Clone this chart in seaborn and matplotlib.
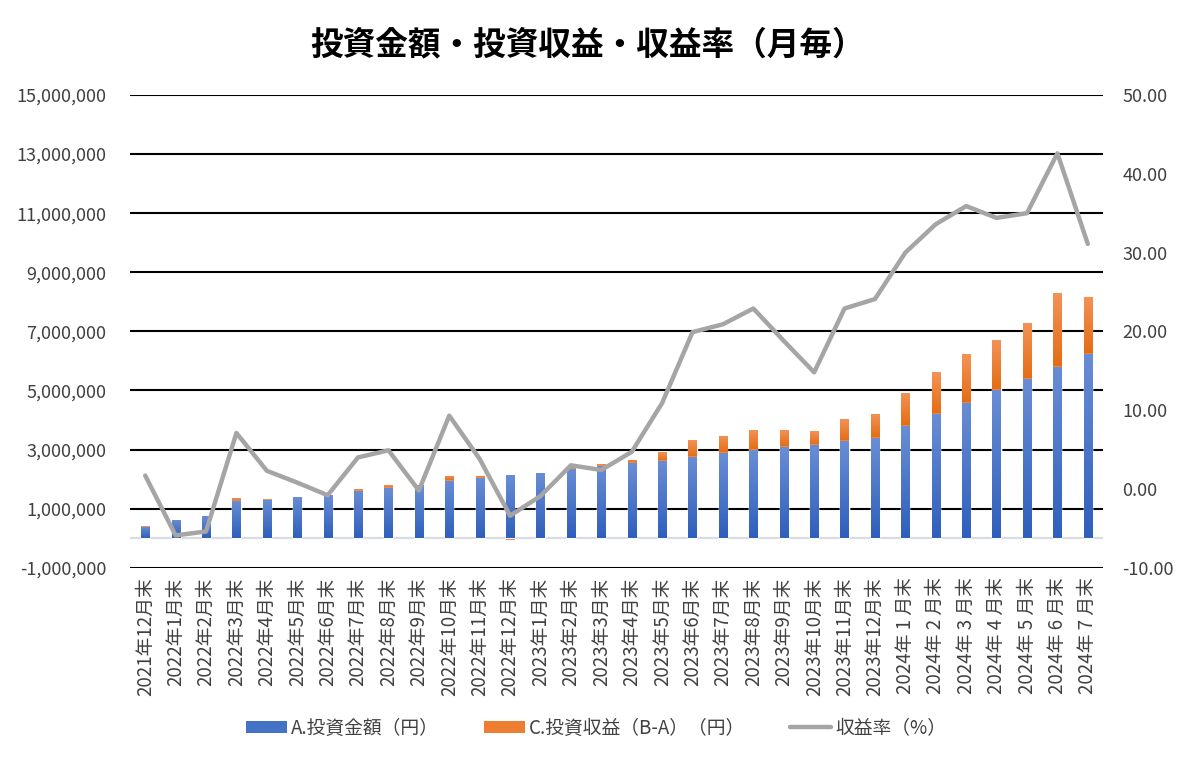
import numpy as np
import pandas as pd
import matplotlib
matplotlib.use("Agg")
import matplotlib.pyplot as plt
import seaborn as sns
from matplotlib.patches import Patch
from matplotlib.lines import Line2D
from matplotlib.colors import LinearSegmentedColormap
from matplotlib.ticker import FuncFormatter, MultipleLocator

# ---------------- data ----------------
months = ['2021年12月末',
          '2022年1月末', '2022年2月末', '2022年3月末', '2022年4月末', '2022年5月末', '2022年6月末',
          '2022年7月末', '2022年8月末', '2022年9月末', '2022年10月末', '2022年11月末', '2022年12月末',
          '2023年1月末', '2023年2月末', '2023年3月末', '2023年4月末', '2023年5月末', '2023年6月末',
          '2023年7月末', '2023年8月末', '2023年9月末', '2023年10月末', '2023年11月末', '2023年12月末',
          '2024年 1 月末', '2024年 2 月末', '2024年 3 月末', '2024年 4 月末', '2024年 5 月末',
          '2024年 6 月末', '2024年 7 月末']

invested = [390000,
            620000, 745000, 1260000, 1300000, 1390000, 1450000,
            1600000, 1710000, 1790000, 1930000, 2020000, 2150000,
            2210000, 2340000, 2450000, 2530000, 2620000, 2760000,
            2870000, 2970000, 3080000, 3170000, 3280000, 3380000,
            3790000, 4200000, 4580000, 5000000, 5400000,
            5810000, 6220000]

profit = [7000,
          -37000, -40000, 90000, 30000, 11000, -12000,
          64000, 84000, -4000, 180000, 77000, -73000,
          -20000, 70000, 59000, 119000, 286000, 549000,
          600000, 680000, 580000, 470000, 750000, 815000,
          1140000, 1410000, 1645000, 1720000, 1890000,
          2475000, 1935000]

rate = [1.7,
        -5.9, -5.4, 7.1, 2.3, 0.8, -0.8,
        4.0, 4.9, -0.2, 9.3, 3.8, -3.4,
        -0.9, 3.0, 2.4, 4.7, 10.9, 19.9,
        20.9, 22.9, 18.8, 14.8, 22.9, 24.1,
        30.0, 33.6, 35.9, 34.4, 35.0,
        42.6, 31.1]

left_ticks = [-1000000, 1000000, 3000000, 5000000, 7000000, 9000000, 11000000, 13000000, 15000000]
right_ticks = [-10, 0, 10, 20, 30, 40, 50]

title = '投資金額・投資収益・収益率（月毎）'
legend_labels = ['A.投資金額（円）', 'C.投資収益（B-A）（円）', '収益率（%）']

# ---------------- style ----------------
sns.set_theme(style="white")
plt.rcParams['font.family'] = ['Noto Sans CJK JP', 'DejaVu Sans']
TXT = '#404040'
BLUE = '#4472C4'
ORANGE = '#ED7D31'
GRAY = '#A5A5A5'

df = pd.DataFrame({'month': months, 'invested': invested, 'profit': profit, 'rate': rate})
df['pos_top'] = df['invested'] + df['profit'].clip(lower=0)
df['neg'] = df['profit'].clip(upper=0)

fig = plt.figure(figsize=(11.96, 7.61), dpi=100)
ax = fig.add_axes([130 / 1196, 1 - 567.7 / 761, (1103 - 130) / 1196, (567.7 - 95) / 761])

W = 0.27
n0 = len(ax.patches)
sns.barplot(data=df, x='month', y='pos_top', color=ORANGE, saturation=1, width=W,
            errorbar=None, ax=ax)
orange_pos = ax.patches[n0:]
n0 = len(ax.patches)
sns.barplot(data=df, x='month', y='invested', color=BLUE, saturation=1, width=W,
            errorbar=None, ax=ax)
blue_p = ax.patches[n0:]
n0 = len(ax.patches)
sns.barplot(data=df, x='month', y='neg', color=ORANGE, saturation=1, width=W,
            errorbar=None, ax=ax)
orange_neg = ax.patches[n0:]

blue_cmap = LinearSegmentedColormap.from_list('b', ['#2E5FBC', '#6A8ED5'])
orange_cmap = LinearSegmentedColormap.from_list('o', ['#E46C14', '#F39358'])
grad = np.linspace(1, 0, 256).reshape(-1, 1)


def add_grad(patch, cmap, z, y0=None, y1=None):
    x = patch.get_x()
    w = patch.get_width()
    y = patch.get_y()
    h = patch.get_height()
    if abs(h) < 1:
        return
    lo, hi = min(y, y + h), max(y, y + h)
    if y0 is not None:
        lo, hi = y0, y1
    patch.set_zorder(z)
    im = ax.imshow(grad, extent=[x, x + w, lo, hi], aspect='auto', cmap=cmap,
                   origin='upper', zorder=z + 0.01, interpolation='bilinear')
    im.set_clip_path(patch)


for po, pb in zip(orange_pos, blue_p):
    top = po.get_y() + po.get_height()
    btop = pb.get_y() + pb.get_height()
    add_grad(po, orange_cmap, 2, btop, max(top, btop + 1))
for pb in blue_p:
    add_grad(pb, blue_cmap, 3)
for pn in orange_neg:
    add_grad(pn, orange_cmap, 2)

ax.set_xlim(-0.5, len(months) - 0.5)
ax.set_ylim(-1000000, 15000000)
ax.set_yticks(left_ticks)
ax.yaxis.set_major_formatter(FuncFormatter(lambda v, p: f"{v:,.0f}"))
ax.grid(False)
ax.yaxis.grid(True, color='black', linewidth=1.5)
ax.set_axisbelow(True)
ax.axhline(0, color='#D9DDE3', linewidth=1.6, zorder=1.5)
for s in ax.spines.values():
    s.set_visible(False)
ax.set_xlabel('')
ax.set_ylabel('')
ax.tick_params(axis='y', length=0, pad=17, labelsize=13, labelcolor=TXT)
ax.tick_params(axis='x', length=0, pad=7, labelsize=13.5, labelcolor=TXT, rotation=90)
for lab in ax.get_xticklabels():
    lab.set_verticalalignment('top')

ax2 = ax.twinx()
sns.lineplot(data=df, x='month', y='rate', color=GRAY, linewidth=3.2, sort=False, ax=ax2)
ax2.set_ylim(-10, 50)
ax2.set_yticks(right_ticks)
ax2.yaxis.set_major_formatter(FuncFormatter(lambda v, p: f"{v:.2f}"))
ax2.set_xlim(-0.5, len(months) - 0.5)
ax2.grid(False)
for s in ax2.spines.values():
    s.set_visible(False)
ax2.set_ylabel('')
ax2.set_xlabel('')
ax2.tick_params(axis='y', length=0, pad=14, labelsize=13, labelcolor=TXT)

fig.text(588 / 1196, 1 - 45 / 761, title, ha='center', va='center',
         fontsize=23.5, fontweight='bold', color='black')

handles = [Patch(facecolor=BLUE, edgecolor='none'),
           Patch(facecolor=ORANGE, edgecolor='none'),
           Line2D([0], [0], color=GRAY, linewidth=3.2)]
fig.legend(handles, legend_labels, loc='center', bbox_to_anchor=(596 / 1196, 1 - 728 / 761),
           ncol=3, frameon=False, fontsize=13.5, labelcolor=TXT, handlelength=2.2,
           handleheight=0.55, handletextpad=0.2, columnspacing=2.4)

fig.savefig('out.png', dpi=100)
